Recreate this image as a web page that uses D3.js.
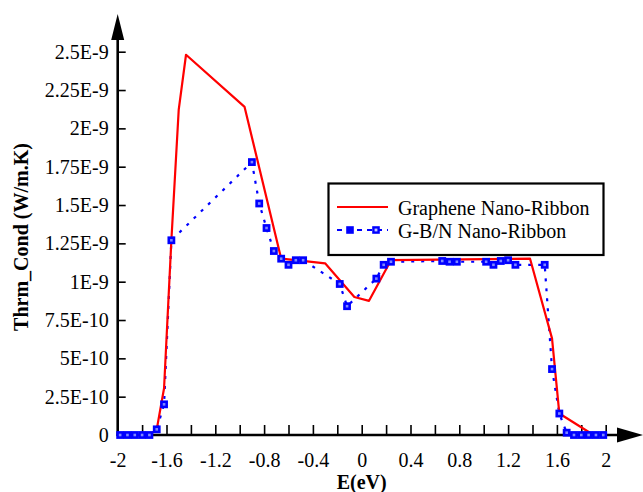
<!DOCTYPE html>
<html><head><meta charset="utf-8">
<script src="https://cdn.jsdelivr.net/npm/d3@7"></script>
<style>
html,body{margin:0;padding:0;background:#fff;}
svg{display:block;font-family:"Liberation Serif","Times New Roman",serif;}
</style></head>
<body>
<svg id="chart" width="643" height="492"></svg>
<script>
// ---- data ----
const grapheneE   = [-1.98, -1.74, -1.68, -1.62, -1.56, -1.50, -1.44, -0.96, -0.66, -0.54, -0.30, -0.06, 0.06, 0.24, 1.38, 1.56, 1.62, 1.90];
const grapheneVal = [0, 0, 0.037e-9, 0.305e-9, 1.27e-9, 2.12e-9, 2.48e-9, 2.14e-9, 1.15e-9, 1.14e-9, 1.12e-9, 0.90e-9, 0.875e-9, 1.14e-9, 1.15e-9, 0.63e-9, 0.14e-9, 0];

const gbnE   = [-1.98, -1.92, -1.86, -1.80, -1.74, -1.68, -1.62, -1.56, -0.90, -0.84, -0.78, -0.72, -0.66, -0.60, -0.54, -0.48, -0.18, -0.12, 0.12, 0.18, 0.24, 0.66, 0.72, 0.78, 1.02, 1.08, 1.14, 1.20, 1.26, 1.50, 1.56, 1.62, 1.68, 1.74, 1.80, 1.86, 1.92, 1.98];
const gbnVal = [0, 0, 0, 0, 0, 0.037e-9, 0.20e-9, 1.27e-9, 1.78e-9, 1.51e-9, 1.35e-9, 1.20e-9, 1.15e-9, 1.11e-9, 1.14e-9, 1.14e-9, 0.985e-9, 0.84e-9, 1.02e-9, 1.11e-9, 1.13e-9, 1.135e-9, 1.13e-9, 1.13e-9, 1.13e-9, 1.11e-9, 1.135e-9, 1.14e-9, 1.11e-9, 1.11e-9, 0.43e-9, 0.14e-9, 0.015e-9, 0, 0, 0, 0, 0];

const seriesNames = ["Graphene Nano-Ribbon", "G-B/N Nano-Ribbon"];

const xTickValues = [-2, -1.8, -1.6, -1.4, -1.2, -1.0, -0.8, -0.6, -0.4, -0.2, 0, 0.2, 0.4, 0.6, 0.8, 1.0, 1.2, 1.4, 1.6, 1.8, 2];
const xTickLabels = ["-2", "", "-1.6", "", "-1.2", "", "-0.8", "", "-0.4", "", "0", "", "0.4", "", "0.8", "", "1.2", "", "1.6", "", "2"];
const yTickValues = [0, 0.25e-9, 0.5e-9, 0.75e-9, 1e-9, 1.25e-9, 1.5e-9, 1.75e-9, 2e-9, 2.25e-9, 2.5e-9];
const yTickLabels = ["0", "2.5E-10", "5E-10", "7.5E-10", "1E-9", "1.25E-9", "1.5E-9", "1.75E-9", "2E-9", "2.25E-9", "2.5E-9"];

const xTitle = "E(eV)";
const yTitle = "Thrm_Cond (W/m.K)";

// ---- layout ----
const svg = d3.select("#chart");
const x = d3.scaleLinear().domain([-2, 2]).range([117.7, 605.7]);
const y = d3.scaleLinear().domain([0, 2.5e-9]).range([435, 51.7]);
const x0 = x(-2), y0 = y(0);

// axes
const xAxis = d3.axisBottom(x).tickValues(xTickValues)
  .tickFormat((d, i) => xTickLabels[i]).tickSizeInner(-10).tickSizeOuter(0).tickPadding(18);
const gx = svg.append("g").attr("transform", `translate(0,${y0})`).call(xAxis);
gx.select(".domain").remove();
gx.selectAll(".tick line").attr("stroke", "#000").attr("stroke-width", 1.6);
gx.selectAll(".tick text").attr("font-size", 20).attr("fill", "#000")
  .attr("font-family", "Liberation Serif, Times New Roman, serif");

const yAxis = d3.axisLeft(y).tickValues(yTickValues)
  .tickFormat((d, i) => yTickLabels[i]).tickSizeInner(-8).tickSizeOuter(0).tickPadding(9);
const gy = svg.append("g").attr("transform", `translate(${x0},0)`).call(yAxis);
gy.select(".domain").remove();
gy.selectAll(".tick line").attr("stroke", "#000").attr("stroke-width", 1.6);
gy.selectAll(".tick text").attr("font-size", 20).attr("fill", "#000")
  .attr("font-family", "Liberation Serif, Times New Roman, serif");

// axis lines with arrows
svg.append("line").attr("x1", x0).attr("x2", x0).attr("y1", y0 + 1).attr("y2", 38)
  .attr("stroke", "#000").attr("stroke-width", 2.6);
svg.append("path").attr("d", `M${x0},14 L${x0 - 6.5},40 L${x0 + 6.5},40 Z`).attr("fill", "#000");
svg.append("line").attr("x1", x0 - 1).attr("x2", 619).attr("y1", y0).attr("y2", y0)
  .attr("stroke", "#000").attr("stroke-width", 2.6);
svg.append("path").attr("d", `M643,${y0} L617,${y0 - 7.5} L617,${y0 + 7.5} Z`).attr("fill", "#000");

// titles
svg.append("text").attr("x", x(0)).attr("y", 489).attr("text-anchor", "middle")
  .attr("font-size", 20).attr("font-weight", "bold").text(xTitle);
svg.append("text").attr("transform", "translate(28,237) rotate(-90)").attr("text-anchor", "middle")
  .attr("font-size", 20).attr("font-weight", "bold").text(yTitle);

// series
const line = d3.line().x(d => x(d[0])).y(d => y(d[1]));
const gData = grapheneE.map((e, i) => [e, grapheneVal[i]]);
const bData = gbnE.map((e, i) => [e, gbnVal[i]]);

svg.append("path").datum(bData).attr("d", line).attr("fill", "none")
  .attr("stroke", "#0000ff").attr("stroke-width", 2.2).attr("stroke-dasharray", "3,7");
svg.append("path").datum(gData).attr("d", line).attr("fill", "none")
  .attr("stroke", "#ff0000").attr("stroke-width", 2.2).attr("stroke-linejoin", "round");
svg.append("g").selectAll("rect").data(bData).join("rect")
  .attr("x", d => x(d[0]) - 2.6).attr("y", d => y(d[1]) - 2.6)
  .attr("width", 5.2).attr("height", 5.2)
  .attr("fill", "#7f88ff").attr("stroke", "#0000ff").attr("stroke-width", 2.6);

// legend
const lg = svg.append("g");
lg.append("rect").attr("x", 328.5).attr("y", 183.5).attr("width", 275).attr("height", 71.5)
  .attr("fill", "#fff").attr("stroke", "#000").attr("stroke-width", 2.2);
lg.append("line").attr("x1", 337).attr("x2", 388).attr("y1", 207).attr("y2", 207)
  .attr("stroke", "#ff0000").attr("stroke-width", 2.2);
lg.append("line").attr("x1", 337).attr("x2", 388).attr("y1", 230).attr("y2", 230)
  .attr("stroke", "#0000ff").attr("stroke-width", 2.2).attr("stroke-dasharray", "5,5");
[350, 376].forEach((cx, i) => {
  lg.append("rect").attr("x", cx - 2.6).attr("y", 230 - 2.6).attr("width", 5.2).attr("height", 5.2)
    .attr("fill", i === 0 ? "#0000ff" : "#c8ccff").attr("stroke", "#0000ff").attr("stroke-width", 2.4);
});
lg.append("text").attr("x", 398).attr("y", 215).attr("font-size", 20).text(seriesNames[0]);
lg.append("text").attr("x", 398).attr("y", 238).attr("font-size", 20).text(seriesNames[1]);
</script>
</body></html>
